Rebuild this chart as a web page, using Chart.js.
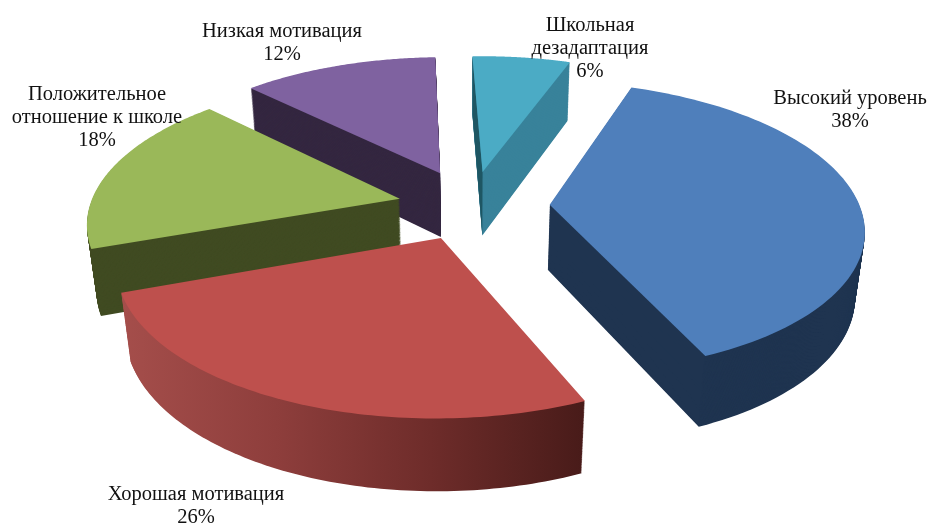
<!DOCTYPE html>
<html><head><meta charset="utf-8">
<style>html,body{margin:0;padding:0;background:#fff}#w{width:928px;height:524px}</style>
<script src="https://cdn.jsdelivr.net/npm/chart.js@4"></script>
</head><body><div id="w"><canvas id="c" width="928" height="524"></canvas></div>
<script>
const categories = ["Высокий уровень","Хорошая мотивация","Положительное отношение к школе","Низкая мотивация","Школьная дезадаптация"];
const shares = [38,26,18,12,6];
const labelLines = [["Высокий уровень"],["Хорошая мотивация"],["Положительное","отношение к школе"],["Низкая мотивация"],["Школьная","дезадаптация"]];
const topColors = ["#4f7fbb","#be504d","#9ab859","#7f62a0","#4babc5"];
const wallColors = [["#1f3450"],["#a54e4b","#8e3e3c","#6e2c2a","#481b19"],["#404b22"],["#342740"],["#38829a"]];
const startWallColors = [null,null,null,null,"#1e5663"];
const explodeOffsets = [59,55,55,60,58];
const labelAnchors = [[850,98.5],[196,494.5],[97,94.5],[282,31.5],[590,25.5]];
const camera = {cx:471, cy:206, scale:310, tilt:.46, persp:.15, depth:.215, converge:.025};

function project(X,Y,Z){
  const p = 1/(1 - camera.persp*Y + camera.converge*(-Z));
  return [camera.cx + camera.scale*X*p, camera.cy + camera.scale*(camera.tilt*Y + camera.depth*(-Z))*p];
}
function wedge(el){
  const R = el.outerRadius, e = el.options.offset/R, m = (el.startAngle+el.endAngle)/2;
  const vx = e*Math.cos(m), vy = e*Math.sin(m), rim = [];
  const n = 90;
  for(let i=0;i<=n;i++){
    const a = el.startAngle + (el.endAngle-el.startAngle)*i/n;
    rim.push([vx+Math.cos(a), vy+Math.sin(a)]);
  }
  return {v:[vx,vy], rim};
}
function fillPoly(ctx,pts,fill){
  ctx.beginPath();
  pts.forEach((q,i)=> i?ctx.lineTo(q[0],q[1]):ctx.moveTo(q[0],q[1]));
  ctx.closePath(); ctx.fillStyle=fill; ctx.fill();
}
const pie3d = {
  id:'pie3d',
  beforeDatasetDraw(chart,args){
    const ctx = chart.ctx, arcs = chart.getDatasetMeta(0).data;
    const order = arcs.map((el,i)=>i).sort((a,b)=>
      Math.sin((arcs[a].startAngle+arcs[a].endAngle)/2)-Math.sin((arcs[b].startAngle+arcs[b].endAngle)/2));
    order.forEach(i=>{
      const el = arcs[i], g = wedge(el);
      const level = z => [project(g.v[0],g.v[1],z)].concat(g.rim.map(q=>project(q[0],q[1],z)));
      const top = level(0), xs = top.map(q=>q[0]);
      let wall = wallColors[i][0];
      if(wallColors[i].length>1){
        wall = ctx.createLinearGradient(Math.min(...xs),0,Math.max(...xs),0);
        wallColors[i].forEach((c,k)=>wall.addColorStop(k/(wallColors[i].length-1),c));
      }
      for(let k=80;k>=1;k--) fillPoly(ctx,level(-k/80),wall);
      if(startWallColors[i]){
        const b = level(-1);
        fillPoly(ctx,[top[0],top[1],b[1],b[0]],startWallColors[i]);
      }
      fillPoly(ctx,top,el.options.backgroundColor);
    });
    return false;
  },
  afterDatasetsDraw(chart){
    const ctx = chart.ctx;
    ctx.save();
    ctx.font = '20.5px "Liberation Serif"'; ctx.fillStyle='#111'; ctx.textAlign='center'; ctx.textBaseline='middle';
    labelLines.forEach((lines,i)=>{
      const all = lines.concat([shares[i]+'%']);
      all.forEach((t,k)=>ctx.fillText(t,labelAnchors[i][0],labelAnchors[i][1]+k*23));
    });
    ctx.restore();
  }
};
new Chart(document.getElementById('c'),{
  type:'pie',
  data:{labels:categories,datasets:[{data:shares,backgroundColor:topColors,borderWidth:0,offset:explodeOffsets}]},
  options:{responsive:false,animation:false,rotation:19.7,
    plugins:{legend:{display:false},tooltip:{enabled:false}}},
  plugins:[pie3d]
});
</script></body></html>
